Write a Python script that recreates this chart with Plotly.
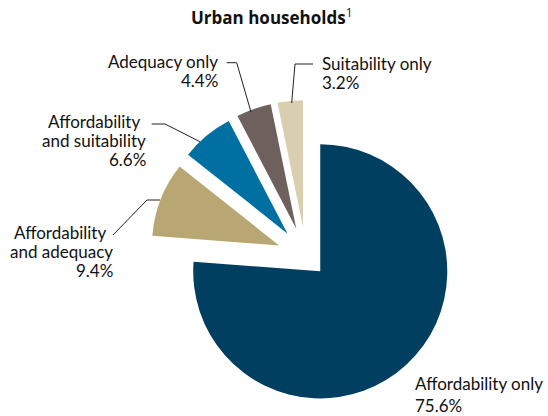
import plotly.graph_objects as go

W, H = 548, 416

# ---- data ----
categories = ["Affordability only", "Affordability and adequacy",
              "Affordability and suitability", "Adequacy only", "Suitability only"]
values = [75.6, 9.4, 6.6, 4.4, 3.2]
colors = ["#003f60", "#b8a773", "#0070a3", "#6e605c", "#d9ceb0"]
pulls = [0.165, 0.228, 0.228, 0.228, 0.228]

FONT = "Lato"
FS = 17


def px(x):
    return x / W


def py(y):
    return 1 - y / H


fig = go.Figure(go.Pie(
    labels=categories,
    values=values,
    marker=dict(colors=colors, line=dict(width=0)),
    pull=pulls,
    sort=False,
    direction="clockwise",
    rotation=0,
    textinfo="none",
    hoverinfo="label+percent",
    showlegend=False,
    domain=dict(x=[150 / W, 462 / W], y=[1 - 412 / H, 1 - 100 / H]),
))

pct = {c: f"{v:.1f}%" for c, v in zip(categories, values)}

# label lines: (text, x, baseline_y, anchor)
label_lines = [
    ("Adequacy only", 220, 68, "right"),
    (pct["Adequacy only"], 220, 87, "right"),
    ("Suitability only", 320, 70, "left"),
    (pct["Suitability only"], 320, 89, "left"),
    ("Affordability", 142, 128, "right"),
    ("and suitability", 148, 147, "right"),
    (pct["Affordability and suitability"], 148, 165.8, "right"),
    ("Affordability", 108, 239, "right"),
    ("and adequacy", 115, 258.4, "right"),
    (pct["Affordability and adequacy"], 115, 277.2, "right"),
    ("Affordability only", 413, 390, "left"),
    (pct["Affordability only"], 413, 411.5, "left"),
]

annotations = []
for text, x, base, anc in label_lines:
    annotations.append(dict(
        text=text, x=px(x), y=py(base - 6.5), xref="paper", yref="paper",
        xanchor=anc, yanchor="middle", showarrow=False,
        font=dict(family=FONT, size=FS, color="#111111"),
    ))

annotations.append(dict(
    text="<b>Urban households</b><sup>1</sup>", x=px(271), y=py(17),
    xref="paper", yref="paper", xanchor="center", yanchor="middle",
    showarrow=False, font=dict(family="Open Sans", size=17, color="#111111"),
))

leaders = [
    [(226.7, 62.7), (236.7, 62.7), (251, 112)],
    [(313, 64), (295, 64), (291.7, 103)],
    [(151.7, 124), (165, 124), (200, 141.7)],
    [(113, 235), (147, 200), (160, 200)],
]
shapes = []
for pts in leaders:
    path = "M " + " L ".join(f"{px(x):.5f},{py(y):.5f}" for x, y in pts)
    shapes.append(dict(type="path", path=path, xref="paper", yref="paper",
                       line=dict(color="#222222", width=1)))

fig.update_layout(
    width=W, height=H,
    margin=dict(l=0, r=0, t=0, b=0, autoexpand=False),
    paper_bgcolor="white", plot_bgcolor="white",
    annotations=annotations, shapes=shapes,
)

fig.write_html("out.html",
               config={"displayModeBar": False},
               post_script="document.body.style.margin='0';document.body.style.padding='0';")
